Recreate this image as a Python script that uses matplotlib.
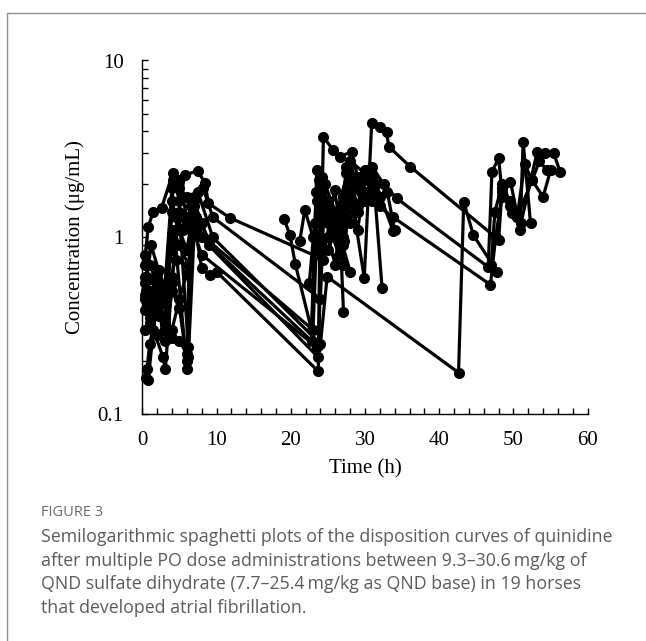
import matplotlib
matplotlib.use("Agg")
import matplotlib.pyplot as plt
from matplotlib.patches import Rectangle
from matplotlib.ticker import LogLocator, MultipleLocator, FixedLocator, FixedFormatter, NullFormatter

# Quinidine plasma concentrations (ug/mL) versus time (h), one pair of lists per horse
t01 = [0.4, 0.8, 1.5, 2.6, 4.1, 5.0, 5.75, 7.45, 8.45, 8.9, 11.8, 24.4, 25.9, 26.6, 27.1]
c01 = [0.80, 1.15, 1.40, 1.47, 2.30, 1.60, 2.25, 2.38, 2.03, 1.56, 1.29, 0.75, 1.86, 1.20, 0.38]
t02 = [0.5, 1.0, 2.0, 3.0, 4.0, 5.0, 6.0, 7.0, 8.0, 9.1, 10.0, 23.7, 24.4, 25.7, 26.6, 28.2, 29.0]
c02 = [0.50, 0.45, 0.62, 0.50, 1.90, 2.10, 1.30, 1.20, 0.67, 0.61, 0.64, 0.175, 3.70, 3.12, 2.86, 3.05, 2.20]
t03 = [0.6, 0.8, 1.5, 2.8, 3.1, 4.0, 4.5, 6.0, 6.2, 7.0, 8.0, 22.8, 23.5, 24.5, 25.5, 27.0, 28.0]
c03 = [0.18, 0.157, 0.30, 0.21, 0.18, 0.55, 0.90, 0.18, 0.21, 1.10, 1.00, 0.26, 2.40, 1.50, 1.10, 0.90, 0.64]
t04 = [0.4, 1.0, 2.0, 3.0, 4.0, 5.0, 6.2, 7.0, 9.0, 23.7, 24.0, 25.0, 26.0, 27.5, 28.5, 29.9,
       30.9, 32.0, 32.9, 33.2, 36.1, 48.0, 48.4, 49.6, 50.9, 51.3, 52.3]
c04 = [0.39, 0.50, 0.45, 0.35, 1.00, 1.30, 0.24, 1.60, 0.90, 0.21, 1.60, 1.30, 1.00, 2.30, 1.40, 0.59,
       4.42, 4.23, 3.96, 3.26, 2.51, 0.97, 1.70, 2.07, 1.10, 3.47, 1.20]
t05 = [0.3, 1.0, 2.0, 3.0, 4.0, 5.0, 6.0, 6.5, 7.5, 9.5, 24.0, 24.9, 42.6, 43.3, 44.6, 47.8]
c05 = [0.47, 0.42, 0.55, 0.30, 0.27, 0.26, 0.22, 1.50, 1.80, 1.00, 0.25, 0.60, 0.172, 1.59, 1.03, 0.64]
t06 = [0.5, 1.0, 2.0, 3.0, 4.2, 5.0, 6.0, 7.0, 8.0, 23.5]
c06 = [0.50, 0.38, 0.28, 0.32, 2.10, 1.90, 1.70, 1.05, 0.80, 0.24]
t07 = [0.4, 1.0, 2.0, 3.0, 4.0, 5.0, 6.0, 7.0, 8.0, 9.0, 23.0, 23.8, 25.0, 26.0, 28.0, 29.0, 31.3, 32.3]
c07 = [0.60, 0.70, 0.55, 0.45, 1.40, 1.10, 0.85, 1.50, 1.20, 0.95, 0.30, 2.10, 1.60, 1.30, 2.60, 2.00, 1.78, 0.52]
t08 = [0.3, 1.0, 2.0, 3.0, 4.0, 5.0, 6.0, 7.0, 8.2, 9.5, 24.0, 24.6, 26.0, 27.0, 28.0, 30.0, 31.0,
       32.5, 34.3, 46.6, 47.1, 48.0, 48.4, 49.8, 51.0, 53.2, 54.3, 55.4, 56.3]
c08 = [0.45, 0.35, 0.40, 0.33, 0.60, 1.40, 1.20, 1.70, 1.90, 1.30, 0.45, 2.00, 1.40, 1.00, 2.70, 2.30, 2.50,
       2.00, 1.66, 0.68, 2.35, 2.80, 1.90, 1.37, 1.20, 3.05, 2.99, 2.99, 2.35]
t09 = [19.1, 19.9, 20.6, 22.8, 23.4, 24.2, 25.0, 26.5, 27.5, 29.0, 30.0, 31.0, 33.8, 46.9, 47.6,
       48.5, 49.5, 50.5, 52.5, 54.0, 55.0]
c09 = [1.27, 1.03, 0.71, 0.30, 1.80, 1.40, 1.20, 0.80, 2.50, 1.50, 2.40, 1.60, 1.30, 0.54, 1.00,
       1.80, 1.50, 1.30, 2.10, 1.70, 2.40]
t10 = [21.2, 21.9, 23.0, 24.0, 25.0, 26.0, 27.0, 28.0, 29.0, 30.0, 31.0, 32.0, 33.0, 34.0]
c10 = [0.95, 1.43, 1.00, 0.80, 1.00, 0.70, 1.70, 1.20, 2.20, 1.60, 2.20, 1.70, 1.80, 1.10]
t11 = [0.3, 0.6, 1.2, 2.2, 3.2, 4.2, 5.0, 6.2, 7.2, 8.2]
c11 = [0.55, 0.60, 0.90, 0.65, 0.50, 1.10, 0.90, 0.70, 1.30, 1.00]
t12 = [0.4, 1.0, 2.0, 3.0, 4.0, 5.0, 6.0, 6.8]
c12 = [0.30, 0.33, 0.28, 0.26, 0.50, 0.40, 0.20, 1.20]
t13 = [0.5, 1.0, 2.0, 3.0, 4.0, 5.0, 6.0]
c13 = [0.16, 0.25, 0.40, 0.35, 0.30, 0.45, 0.62]
t14 = [0.3, 1.0, 2.0, 3.0, 4.0, 4.5, 5.5]
c14 = [0.70, 0.58, 0.50, 0.42, 1.60, 1.30, 1.10]
t15 = [0.6, 1.2, 2.2, 3.0, 3.8, 4.6]
c15 = [0.42, 0.48, 0.36, 0.30, 0.85, 0.75]
t16 = [22.5, 23.2, 24.0, 25.0, 26.0, 27.0, 28.0, 29.0, 30.0]
c16 = [0.55, 1.20, 0.95, 0.85, 1.10, 0.70, 1.80, 1.10, 2.10]
t17 = [23.5, 24.2, 25.2, 26.2, 27.2, 28.5, 29.5, 30.5, 31.5, 33.8]
c17 = [1.60, 2.20, 1.40, 1.10, 0.95, 2.20, 1.80, 2.30, 2.00, 1.08]
t18 = [47.0, 47.5, 48.5, 49.5, 50.5, 51.5, 52.5, 53.5, 54.5]
c18 = [0.70, 1.40, 2.00, 1.60, 1.30, 2.60, 2.10, 2.70, 2.40]
t19 = [26.0, 27.0, 28.0, 29.0, 30.0, 31.0, 32.0]
c19 = [1.00, 0.70, 2.10, 1.40, 2.30, 1.80, 1.50]

times = [t01, t02, t03, t04, t05, t06, t07, t08, t09, t10, t11, t12, t13, t14, t15, t16, t17, t18, t19]
concs = [c01, c02, c03, c04, c05, c06, c07, c08, c09, c10, c11, c12, c13, c14, c15, c16, c17, c18, c19]

x_ticks = [0, 10, 20, 30, 40, 50, 60]
y_ticks = [0.1, 1, 10]
y_tick_labels = ["0.1", "1", "10"]

serif = "Liberation Serif"
cap_font = "Open Sans"
cap_color = "#5b5b5b"

fig = plt.figure(figsize=(6.46, 6.41), dpi=100)
W, H = 646, 641

# panel frame (open to the right and bottom)
fig.patches.append(Rectangle((6.5 / W, -0.2), 1.2, 1.2 - 12.5 / H, transform=fig.transFigure,
                             fill=False, edgecolor="#8f8f8f", linewidth=1.0))

ax = fig.add_axes([142.3 / W, 1 - 414.3 / H, (587.7 - 142.3) / W, (414.3 - 60.5) / H])
for t, c in zip(times, concs):
    ax.plot(t, c, color="black", linewidth=2.3, marker="o", markersize=7,
            markerfacecolor="black", markeredgecolor="black", solid_joinstyle="round",
            clip_on=False)

ax.set_yscale("log")
ax.set_xlim(0, 60)
ax.set_ylim(0.1, 10)
ax.spines["top"].set_visible(False)
ax.spines["right"].set_visible(False)
for s in ("left", "bottom"):
    ax.spines[s].set_linewidth(1.0)

ax.xaxis.set_major_locator(FixedLocator(x_ticks))
ax.xaxis.set_minor_locator(MultipleLocator(2))
ax.yaxis.set_major_locator(FixedLocator(y_ticks))
ax.yaxis.set_major_formatter(FixedFormatter(y_tick_labels))
ax.yaxis.set_minor_locator(LogLocator(base=10, subs=range(2, 10)))
ax.yaxis.set_minor_formatter(NullFormatter())
ax.tick_params(which="both", direction="in", width=1.0, colors="black")
ax.tick_params(which="major", length=4)
ax.tick_params(which="minor", length=4)
ax.tick_params(axis="x", which="major", pad=12)
ax.tick_params(axis="y", which="major", pad=13.5)
for lab in ax.get_xticklabels() + ax.get_yticklabels():
    lab.set_fontfamily(serif)
    lab.set_fontsize(15)

ax.set_xlabel("Time (h)", fontfamily=serif, fontsize=15, labelpad=7)
ax.set_ylabel("Concentration (\u03bcg/mL)", fontfamily=serif, fontsize=15, labelpad=9)

fig.text(41 / W, 1 - 513 / H, "FIGURE 3", fontfamily=cap_font, fontsize=10.5,
         color="#6a6a6a", va="center", ha="left")
caption = [
    "Semilogarithmic spaghetti plots of the disposition curves of quinidine",
    "after multiple PO dose administrations between 9.3\u201330.6\u2009mg/kg of",
    "QND sulfate dihydrate (7.7\u201325.4\u2009mg/kg as QND base) in 19 horses",
    "that developed atrial fibrillation.",
]
for i, line in enumerate(caption):
    fig.text(41 / W, 1 - (537 + 23.6 * i) / H, line, fontfamily=cap_font, fontsize=12.8,
             color=cap_color, va="center", ha="left")

fig.savefig("out.png", dpi=100)
